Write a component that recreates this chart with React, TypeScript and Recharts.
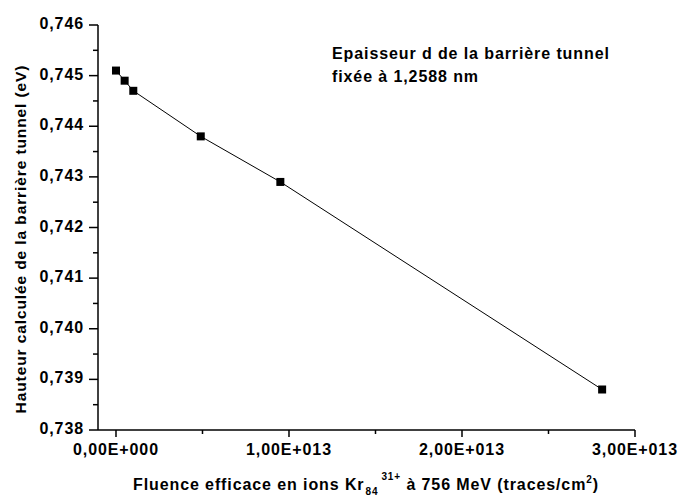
import React from "react";
import { LineChart, Line, XAxis, YAxis, Label } from "recharts";

// fluence (traces/cm2) and computed barrier height (eV)
const fluence = [0, 5e11, 1e12, 4.9e12, 9.5e12, 2.81e13];
const hauteur = [0.7451, 0.7449, 0.7447, 0.7438, 0.7429, 0.7388];

const xTicks = [0, 5e12, 1e13, 1.5e13, 2e13, 2.5e13, 3e13];
const xTickLabels = ["0,00E+000", "", "1,00E+013", "", "2,00E+013", "", "3,00E+013"];
const yTicks = [0.738, 0.7385, 0.739, 0.7395, 0.74, 0.7405, 0.741, 0.7415, 0.742, 0.7425, 0.743, 0.7435, 0.744, 0.7445, 0.745, 0.7455, 0.746];
const yTickLabels = ["0,738", "", "0,739", "", "0,740", "", "0,741", "", "0,742", "", "0,743", "", "0,744", "", "0,745", "", "0,746"];

const data = fluence.map((f, i) => ({ f, h: hauteur[i] }));

const FONT = "'Liberation Sans', Arial, sans-serif";
const LS = 0.9;

const XTick = (props: any) => {
  const { x, y, index } = props;
  const label = xTickLabels[index] ?? "";
  const major = label !== "";
  return (
    <g>
      <line x1={x} x2={x} y1={y} y2={y + (major ? 7 : 4)} stroke="#000" strokeWidth={1.5} />
      {major && (
        <text x={x} y={y + 25} textAnchor="middle" fontSize={16} letterSpacing={LS} fontWeight="bold" fill="#000" fontFamily={FONT}>
          {label}
        </text>
      )}
    </g>
  );
};

const YTick = (props: any) => {
  const { x, y, index } = props;
  const label = yTickLabels[index] ?? "";
  const major = label !== "";
  return (
    <g>
      <line x1={x - (major ? 9 : 5)} x2={x} y1={y} y2={y} stroke="#000" strokeWidth={1.5} />
      {major && (
        <text x={x - 14} y={y + 4} textAnchor="end" fontSize={16} letterSpacing={LS} fontWeight="bold" fill="#000" fontFamily={FONT}>
          {label}
        </text>
      )}
    </g>
  );
};

const Square = (props: any) => {
  const { cx, cy } = props;
  if (cx == null || cy == null) return null;
  return <rect x={cx - 4} y={cy - 4} width={8} height={8} fill="#000" />;
};

const XTitle = () => (
  <g fontFamily={FONT} fontWeight="bold" fill="#000" letterSpacing={LS}>
    <text x={366} y={490} textAnchor="middle" fontSize={16}>
      <tspan>Fluence efficace en ions Kr</tspan>
      <tspan fontSize={10} dy={5} dx={1}>84</tspan>
      <tspan fontSize={10} dy={-15} dx={3}>31+</tspan>
      <tspan dy={10}> à 756 MeV (traces/cm</tspan>
      <tspan fontSize={10} dy={-7}>2</tspan>
      <tspan dy={7}>)</tspan>
    </text>
    <text x={332} y={59} fontSize={16}>Epaisseur d de la barrière tunnel</text>
    <text x={332} y={82} fontSize={16}>fixée à 1,2588 nm</text>
  </g>
);

const YTitle = () => (
  <text
    x={0}
    y={0}
    transform="translate(26, 239) rotate(-90)"
    textAnchor="middle"
    fontSize={15.5}
    letterSpacing={0.9}
    fontWeight="bold"
    fill="#000"
    fontFamily={FONT}
  >
    Hauteur calculée de la barrière tunnel (eV)
  </text>
);

export default function App() {
  return (
    <div style={{ position: "absolute", left: 0, top: 0, width: 678, height: 500, background: "#fff" }}>
      <LineChart width={678} height={500} data={data} margin={{ top: 25, right: 43, bottom: 0, left: 0 }}>
        <XAxis
          dataKey="f"
          type="number"
          domain={[-1.04e12, 3e13]}
          allowDataOverflow
          ticks={xTicks}
          interval={0}
          tick={<XTick />}
          tickLine={false}
          tickSize={0}
          tickMargin={0}
          height={70}
          axisLine={{ stroke: "#000", strokeWidth: 1.5 }}
        >
          <Label content={<XTitle />} />
        </XAxis>
        <YAxis
          dataKey="h"
          type="number"
          domain={[0.738, 0.746]}
          allowDataOverflow
          ticks={yTicks}
          interval={0}
          tick={<YTick />}
          tickLine={false}
          tickSize={0}
          tickMargin={0}
          width={98}
          axisLine={{ stroke: "#000", strokeWidth: 1.5 }}
        >
          <Label content={<YTitle />} />
        </YAxis>
        <Line
          dataKey="h"
          stroke="#000"
          strokeWidth={1}
          dot={<Square />}
          activeDot={false}
          isAnimationActive={false}
        />
      </LineChart>
    </div>
  );
}
